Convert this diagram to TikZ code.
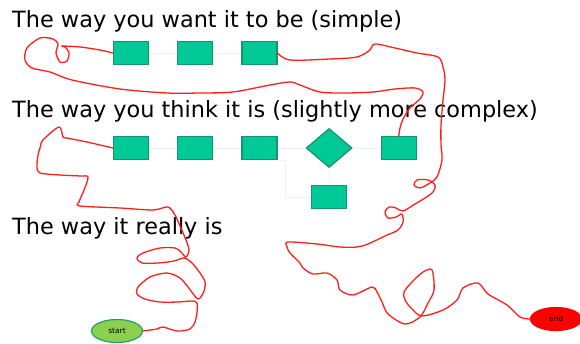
\documentclass[tikz,border=0pt]{standalone}
\usepackage{fontspec}
\setmainfont{DejaVu Sans}
\usetikzlibrary{positioning,shapes.geometric}
\definecolor{procgreen}{RGB}{0,200,150}
\definecolor{procedge}{RGB}{22,148,108}
\definecolor{startgreen}{RGB}{140,208,80}
\definecolor{startedge}{RGB}{36,160,110}
\definecolor{scribred}{RGB}{255,30,30}

\begin{document}
\begin{tikzpicture}[x=1pt, y=-1pt,
  procbox/.style={rectangle, draw=procedge, fill=procgreen, line width=1.2pt, minimum width=35pt, minimum height=23pt, inner sep=0pt},
  decision/.style={diamond, draw=procedge, fill=procgreen, line width=1.2pt, minimum width=46pt, minimum height=39pt, inner sep=0pt},
  terminal/.style={ellipse, line width=1.2pt, minimum width=51pt, minimum height=23pt, inner sep=0pt, font=\fontsize{7.5}{8}\selectfont},
  flow/.style={draw=gray!10, line width=0.8pt},
  scribble/.style={draw=scribred, line width=1.3pt, line join=round, line cap=round},
  caption/.style={anchor=base west, inner sep=0pt, font=\fontsize{22.4}{26}\selectfont},
  every node/.style={font=\small},
]
  \useasboundingbox (0,0) rectangle (580,344);

  % Captions
  \node[caption] (wantlbl) at (12,28) {The way you want it to be (simple)};
  \node[caption] (thinklbl) at (12,118) {The way you think it is (slightly more complex)};
  \node[caption] (reallbl) at (12,235) {The way it really is};

  % Simple chain
  \node[procbox] (want1) at (131,53) {};
  \node[procbox, right=28pt of want1] (want2) {};
  \node[procbox, right=28pt of want2] (want3) {};

  % Slightly more complex chain
  \node[procbox] (think1) at (131,148) {};
  \node[procbox, right=28pt of think1] (think2) {};
  \node[procbox, right=28pt of think2] (think3) {};
  \node[decision, right=28pt of think3] (thinkd) {};
  \node[procbox, right=28pt of thinkd] (think5) {};
  \node[procbox, below=17pt of thinkd] (think6) {};

  \draw[flow] (want1) -- (want2);
  \draw[flow] (want2) -- (want3);
  \draw[flow] (think1) -- (think2);
  \draw[flow] (think2) -- (think3);
  \draw[flow] (think3) -- (thinkd);
  \draw[flow] (thinkd) -- (think5);
  \draw[flow] (thinkd) -- (think6);
  \draw[flow] (think3.south east) -- ++(8,0) |- (think6.west);

  % Start and end
  \node[terminal, fill=startgreen, draw=startedge] (start) at (117,331) {start};
  \node[terminal, fill=red, draw=red] (end) at (556,319) {end};

  % The way it really is
  \draw[scribble] plot[smooth, tension=0.5] coordinates {(start.east) (157,329) (163,327) (177,331) (190,329) (195,322) (197,312) (197,303)
    (192,301) (178,302) (160,302) (145,299) (137,294) (138,287) (150,277) (167,273) (180,278) (188,287) (198,299)
    (204,291) (205,282) (200,273) (192,263) (184,258)
    (174,261) (158,263) (142,263) (137,258) (143,253) (160,248) (175,248) (181,252) (186,257)
    (189,250) (186,240) (180,226) (175,215) (168,207)
    (153,210) (120,208) (80,206) (79,202) (84,190) (88,177) (80,176) (60,175) (40,173) (37,167) (38,155) (40,148) (43,140)
    (59,127) (63,137) (67,138) (87,142) (100,145) (think1.west)};
  \draw[scribble] plot[smooth, tension=0.5] coordinates {(think5.north) (400,128) (403,119) (410,108) (420,99) (423,92) (415,88) (395,89)
    (373,92) (345,93) (320,92) (300,85) (290,82) (270,85) (233,92) (200,93) (167,93) (120,89) (72,80) (50,72) (32,68) (25,60) (27,48)
    (40,38) (53,39) (58,44) (56,53) (60,62) (67,61) (69,53) (65,47) (62,46) (80,47) (100,50) (want1.west)};
  \draw[scribble] plot[smooth, tension=0.5] coordinates {(want3.east) (290,60) (330,59) (357,57) (370,50) (375,44) (395,48) (417,53)
    (438,57) (443,67) (445,80) (443,100) (441,125) (441,145) (442,160) (437,177)
    (430,183) (420,188) (414,185) (417,180) (428,180) (435,185) (433,192) (425,198) (415,204) (403,211)
    (396,208) (389,207) (385,212) (388,218) (396,217) (402,214) (403,222) (398,230) (385,236) (368,244) (357,247) (340,247)
    (317,244) (288,242) (287,247) (290,253) (300,263) (303,268) (313,274) (327,273) (337,280) (340,290) (353,295) (372,287)
    (377,292) (382,302) (388,314) (405,324) (420,317) (428,303) (434,290) (432,270) (423,272) (412,282) (404,292) (405,300)
    (412,309) (422,316) (443,310) (457,300) (463,288) (478,283) (488,294) (507,305) (520,317) (end.west)};
\end{tikzpicture}
\end{document}
